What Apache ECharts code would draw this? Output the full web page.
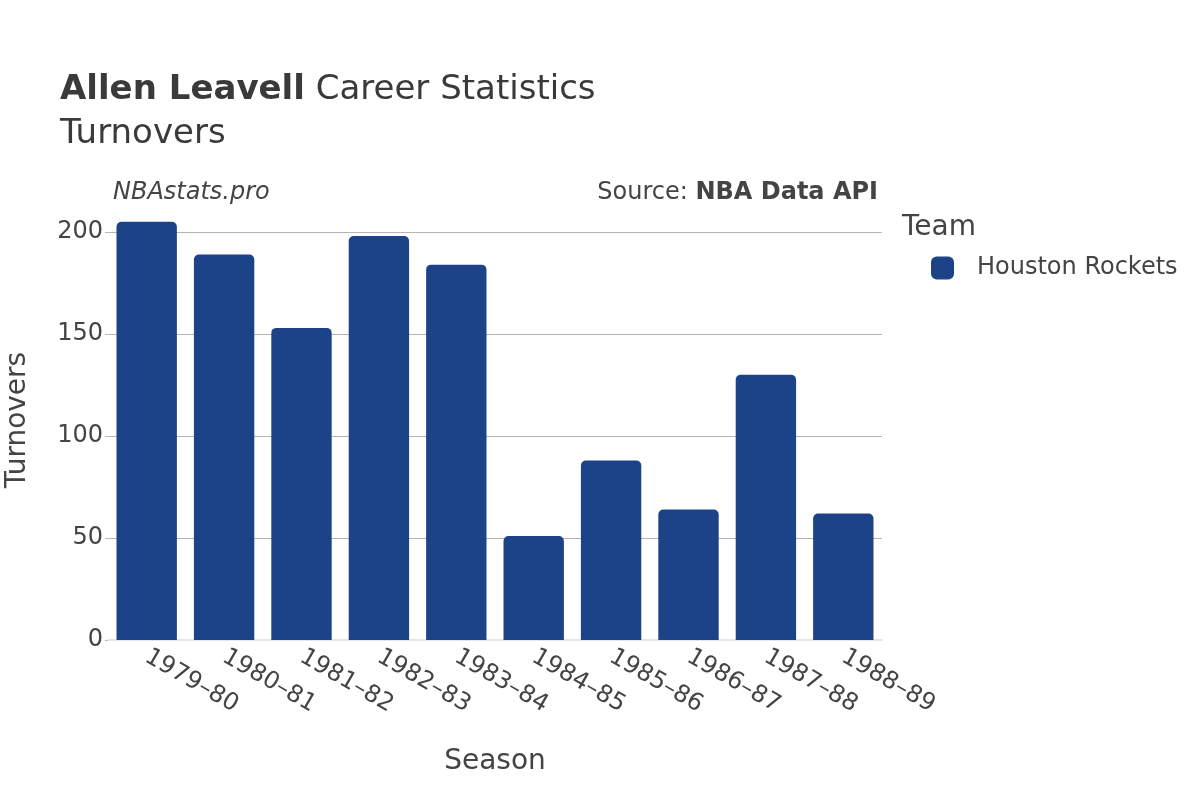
<!DOCTYPE html>
<html>
<head>
<meta charset="utf-8">
<script src="https://cdn.jsdelivr.net/npm/echarts@6/dist/echarts.min.js"></script>
<style>
  html, body { margin: 0; padding: 0; background: #fff; }
  #chart { width: 1200px; height: 800px; }
</style>
</head>
<body>
<div id="chart"></div>
<script>
const seasons = ['1979–80', '1980–81', '1981–82', '1982–83', '1983–84', '1984–85', '1985–86', '1986–87', '1987–88', '1988–89']
const turnovers = [205, 189, 153, 198, 184, 51, 88, 64, 130, 62]
const teamName = 'Houston Rockets'
const teamColor = '#1c4388'

const font = 'DejaVu Sans, sans-serif'
const chart = echarts.init(document.getElementById('chart'))

chart.setOption({
  animation: false,
  textStyle: { fontFamily: font, color: '#444' },
  title: [
    {
      left: 55,
      top: 63,
      text: '{b|Allen Leavell} Career Statistics\nTurnovers',
      textStyle: {
        fontFamily: font,
        fontSize: 34,
        fontWeight: 'normal',
        color: '#3a3a3a',
        lineHeight: 44,
        rich: {
          b: { fontFamily: font, fontSize: 34, fontWeight: 'bold', color: '#3a3a3a', lineHeight: 44 }
        }
      }
    }
  ],
  graphic: [
    {
      type: 'text', left: 113, top: 181,
      style: { text: 'NBAstats.pro', font: 'italic 24px DejaVu Sans', fill: '#444' }
    },
    {
      type: 'text', right: 322, top: 181,
      style: {
        text: 'Source: {b|NBA Data API}',
        font: '24px DejaVu Sans', fill: '#444',
        rich: { b: { font: 'bold 24px DejaVu Sans', fill: '#444' } }
      }
    },
    {
      type: 'text', left: 902, top: 214,
      style: { text: 'Team', font: '28px DejaVu Sans', fill: '#444' }
    },
    {
      type: 'text', x: 18, y: 420, rotation: Math.PI / 2,
      style: { text: 'Turnovers', font: '28px DejaVu Sans', fill: '#444', align: 'center', verticalAlign: 'middle' }
    }
  ],
  legend: {
    left: 926,
    top: 251,
    orient: 'vertical',
    icon: 'roundRect',
    itemWidth: 23,
    itemHeight: 23,
    itemGap: 10,
    textStyle: { fontFamily: font, fontSize: 24, color: '#444', padding: [0, 0, 0, 18] },
    data: [teamName]
  },
  grid: { left: 108, right: 318, top: 232, bottom: 160, containLabel: false },
  xAxis: {
    type: 'category',
    data: seasons,
    name: 'Season',
    nameLocation: 'middle',
    nameGap: 108,
    nameTextStyle: { fontFamily: font, fontSize: 28, color: '#444' },
    axisLine: { show: true, lineStyle: { color: '#e6e6e6', width: 2 } },
    axisTick: { show: false },
    axisLabel: { rotate: -30, fontFamily: font, fontSize: 24, color: '#444', margin: 15 }
  },
  yAxis: {
    type: 'value',
    min: 0,
    max: 200,
    interval: 50,
    axisLine: { show: false },
    axisTick: { show: true, length: 3, lineStyle: { color: '#bbb' } },
    axisLabel: { fontFamily: font, fontSize: 24, color: '#444', margin: 5 },
    splitLine: { lineStyle: { color: '#b4b4b4', width: 1 } }
  },
  series: [
    {
      name: teamName,
      type: 'bar',
      data: turnovers,
      clip: false,
      barCategoryGap: '22%',
      itemStyle: { color: teamColor, borderRadius: [5, 5, 0, 0] }
    }
  ]
})
</script>
</body>
</html>
